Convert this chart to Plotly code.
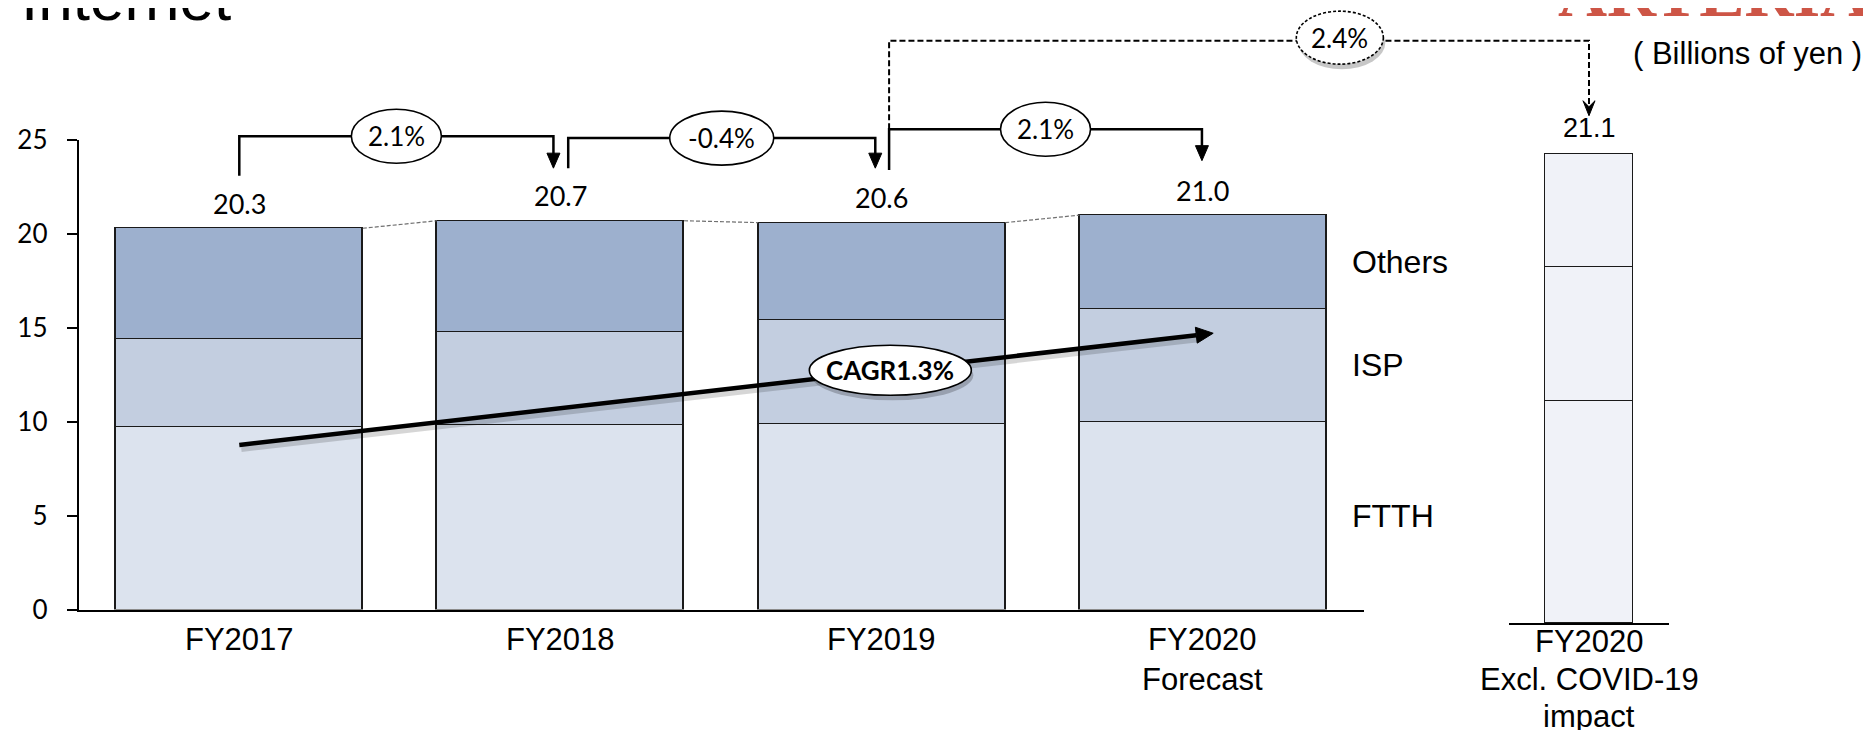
import math
import plotly.graph_objects as go

# ---------------- data ----------------
categories = ["FY2017", "FY2018", "FY2019", "FY2020<br>Forecast"]
ftth = [9.7, 9.8, 9.9, 10.0]
isp = [4.7, 5.0, 5.5, 6.0]
others = [5.9, 5.9, 5.2, 5.0]
totals = [20.3, 20.7, 20.6, 21.0]

excl_category = "FY2020<br>Excl. COVID-19<br>impact"
excl_ftth = [10.0]
excl_isp = [6.0]
excl_others = [5.1]
excl_total = 21.1

segment_names = ["FTTH", "ISP", "Others"]
growth_labels = ["2.1%", "-0.4%", "2.1%"]
excl_growth_label = "2.4%"
cagr_label = "CAGR1.3%"
y_ticks = [0, 5, 10, 15, 20, 25]

# ---------------- style / frame (page pixel coordinates) ----------------
W, H = 1871, 730
OFF = 8  # page body margin in front of the figure
X_DOM_PX = (78.7, 1363.5)
X_RANGE = (-0.5, 3.5)
Y_DOM_PX = (609.5, 140.0)
Y_RANGE = (0, 25)
X2_DOM_PX = (1509.0, 1669.0)
X2_RANGE = (-0.5, 0.5)
Y2_DOM_PX = (623.0, 140.0)
Y2_RANGE = (0, 21.71)

C_OTHERS = "#9DB0CE"
C_ISP = "#C3CEE0"
C_FTTH = "#DCE3EE"
C_EXCL = "#F0F2F8"
BAR_W = 0.769
BAR_W2 = 0.55
NUM_FONT = "Lato, Carlito, 'Liberation Sans', sans-serif"
TXT_FONT = "'Liberation Sans', Arial, sans-serif"


def fx(px):
    return (px - OFF) / W


def fy(py):
    return 1 - (py - OFF) / H


def to_px(x, y, axis="main"):
    if axis == "main":
        xd, xr, yd, yr = X_DOM_PX, X_RANGE, Y_DOM_PX, Y_RANGE
    else:
        xd, xr, yd, yr = X2_DOM_PX, X2_RANGE, Y2_DOM_PX, Y2_RANGE
    px = xd[0] + (x - xr[0]) / (xr[1] - xr[0]) * (xd[1] - xd[0])
    py = yd[0] + (y - yr[0]) / (yr[1] - yr[0]) * (yd[1] - yd[0])
    return px, py


def path_str(points, close=False):
    s = "M " + " L ".join(f"{fx(px):.5f},{fy(py):.5f}" for px, py in points)
    return s + (" Z" if close else "")


shapes = []
annotations = []


def add_path(points, color="black", width=2.5, dash="solid", fill=None, close=False):
    d = dict(type="path", xref="paper", yref="paper", path=path_str(points, close),
             line=dict(color=color, width=width, dash=dash))
    if fill:
        d["fillcolor"] = fill
    shapes.append(d)


def add_ellipse(cx, cy, w, h, dash="solid", shadow=False):
    if shadow:
        shapes.append(dict(type="circle", xref="paper", yref="paper",
                           x0=fx(cx - w / 2 + 2), x1=fx(cx + w / 2 + 2),
                           y0=fy(cy + h / 2 + 5), y1=fy(cy - h / 2 + 5),
                           fillcolor="rgba(0,0,0,0.22)", line=dict(width=0)))
    shapes.append(dict(type="circle", xref="paper", yref="paper",
                       x0=fx(cx - w / 2), x1=fx(cx + w / 2),
                       y0=fy(cy + h / 2), y1=fy(cy - h / 2), fillcolor="white",
                       line=dict(color="black", width=1.6, dash=dash)))


def add_text_px(text, px, py, size=26, family=NUM_FONT, bold=False, xanchor="center",
                yanchor="middle", color="black"):
    annotations.append(dict(text=f"<b>{text}</b>" if bold else text, x=fx(px), y=fy(py),
                            xref="paper", yref="paper", showarrow=False,
                            xanchor=xanchor, yanchor=yanchor,
                            font=dict(size=size, family=family, color=color)))


def down_arrowhead(tx, ty):
    add_path([(tx - 6.5, ty - 15), (tx + 6.5, ty - 15), (tx, ty)], width=1, fill="black",
             close=True)


# ---------------- figure ----------------
fig = go.Figure()
xs = list(range(len(categories)))
line_style = dict(color="#1a1a1a", width=1.5)
for vals, col, name in [(ftth, C_FTTH, "FTTH"), (isp, C_ISP, "ISP"), (others, C_OTHERS, "Others")]:
    fig.add_trace(go.Bar(x=xs, y=vals, width=BAR_W, name=name,
                         marker=dict(color=col, line=line_style),
                         xaxis="x", yaxis="y", hoverinfo="skip"))
for vals, name in [(excl_ftth, "FTTH"), (excl_isp, "ISP"), (excl_others, "Others")]:
    fig.add_trace(go.Bar(x=[0], y=vals, width=BAR_W2, name=name,
                         marker=dict(color=C_EXCL, line=line_style),
                         xaxis="x2", yaxis="y2", hoverinfo="skip"))

# dashed connectors between bar tops
for i in range(len(totals) - 1):
    shapes.append(dict(type="line", xref="x", yref="y",
                       x0=i + BAR_W / 2, y0=totals[i], x1=i + 1 - BAR_W / 2, y1=totals[i + 1],
                       line=dict(color="#707070", width=1.2, dash="4px,2px")))

# value labels
for i, t in enumerate(totals):
    annotations.append(dict(text=f"{t:.1f}", x=i, y=t, xref="x", yref="y", showarrow=False,
                            yanchor="middle", yshift=25,
                            font=dict(size=27, family=NUM_FONT, color="black")))
annotations.append(dict(text=f"{excl_total:.1f}", x=0, y=excl_total, xref="x2", yref="y2",
                        showarrow=False, yanchor="middle", yshift=26,
                        font=dict(size=27, family=TXT_FONT, color="black")))

# segment labels to the right of the last bar
last = len(categories) - 1
mids = [ftth[last] / 2, ftth[last] + isp[last] / 2, ftth[last] + isp[last] + others[last] / 2]
for name, m in zip(segment_names, mids):
    annotations.append(dict(text=name, x=last + BAR_W / 2, y=m, xref="x", yref="y",
                            xshift=24, showarrow=False, xanchor="left", yanchor="middle",
                            font=dict(size=32, family=TXT_FONT, color="black")))

# category labels
cat_top = fy(619.5)
for i, c in enumerate(categories):
    annotations.append(dict(text=c, x=i, y=cat_top, xref="x", yref="paper", showarrow=False,
                            xanchor="center", yanchor="top",
                            font=dict(size=31, family=TXT_FONT, color="black")))
excl_line_centers = [641, 679.5, 716]
for line, cy in zip(excl_category.split("<br>"), excl_line_centers):
    annotations.append(dict(text=line, x=0, y=fy(cy), xref="x2", yref="paper",
                            showarrow=False, xanchor="center", yanchor="middle",
                            font=dict(size=31, family=TXT_FONT, color="black")))

# growth brackets: (x_from, y_from, x_to, y_to, y_line) in main axis units
brackets = [
    (0.0, 23.1, 0.978, 23.5, 25.2),
    (1.024, 23.5, 1.98, 23.5, 25.1),
    (2.023, 23.4, 2.997, 23.9, 25.57),
]
ell_w = [90, 104, 90]
for (xf, yf, xt, yt, yl), lab, ew in zip(brackets, growth_labels, ell_w):
    p0 = to_px(xf, yf)
    p1 = to_px(xf, yl)
    p2 = to_px(xt, yl)
    tip = to_px(xt, yt)
    add_path([p0, p1, (p2[0], p1[1]), (tip[0], tip[1] - 14)], width=2.5)
    down_arrowhead(tip[0], tip[1])
    cx = (p1[0] + p2[0]) / 2
    add_ellipse(cx, p1[1], ew, 54)
    add_text_px(lab, cx, p1[1], size=26)

# dashed bracket to the excl. COVID-19 bar
b4_start = to_px(brackets[2][0], brackets[2][4])
b4_top = to_px(brackets[2][0], 30.29)
b4_tip = to_px(0, 22.8, axis="excl")
add_path([b4_start, b4_top, (b4_tip[0], b4_top[1]), (b4_tip[0], b4_tip[1] - 10)],
         width=2, dash="6px,3px")
tx, ty = b4_tip
add_path([(tx, ty), (tx - 6, ty - 15), (tx, ty - 9), (tx + 6, ty - 15)], width=1,
         fill="black", close=True)
b4_cx = b4_top[0] + 0.644 * (b4_tip[0] - b4_top[0])
add_ellipse(b4_cx, b4_top[1] - 3, 87, 53, dash="3px,2px", shadow=True)
add_text_px(excl_growth_label, b4_cx, b4_top[1] - 3, size=26)

# CAGR arrow
a0 = to_px(0.0, 8.76)
a1 = to_px(3.032, 14.71)
dx, dy = a1[0] - a0[0], a1[1] - a0[1]
L = math.hypot(dx, dy)
ux, uy = dx / L, dy / L
nx, ny = -uy, ux
base = (a1[0] - 17 * ux, a1[1] - 17 * uy)
add_path([(a0[0] + 2, a0[1] + 4), (base[0] + 2, base[1] + 4)], color="rgba(0,0,0,0.16)",
         width=6)
add_path([a0, base], width=4.5)
add_path([a1, (base[0] + 8 * nx, base[1] + 8 * ny), (base[0] - 8 * nx, base[1] - 8 * ny)],
         width=1, fill="black", close=True)
f = 0.6685
ccx, ccy = a0[0] + f * dx, a0[1] + f * dy
add_ellipse(ccx, ccy, 162, 50, shadow=True)
add_text_px(cagr_label, ccx, ccy, size=26, bold=True)

# page texts (partly cut by the top edge, as in the source slide)
annotations.append(dict(text="Internet", x=fx(19), y=fy(35), xref="paper", yref="paper",
                        showarrow=False, xanchor="left", yanchor="bottom",
                        font=dict(size=62, family=TXT_FONT, color="black")))
annotations.append(dict(text="<b>ARTERIA</b>", x=fx(1556), y=fy(33), xref="paper",
                        yref="paper", showarrow=False, xanchor="left", yanchor="bottom",
                        font=dict(size=68, family="'Liberation Serif', 'DejaVu Serif', serif",
                                  color="#CD5546")))
annotations.append(dict(text="( Billions of yen )", x=fx(1631), y=fy(54), xref="paper",
                        yref="paper", showarrow=False, xanchor="left", yanchor="middle",
                        font=dict(size=31, family=TXT_FONT, color="black")))

fig.update_layout(
    width=W, height=H,
    margin=dict(l=0, r=0, t=0, b=0, pad=0, autoexpand=False),
    paper_bgcolor="white", plot_bgcolor="rgba(0,0,0,0)",
    barmode="stack", bargap=0, showlegend=False, hovermode=False,
    xaxis=dict(domain=[fx(X_DOM_PX[0]), fx(X_DOM_PX[1])], range=list(X_RANGE),
               showline=True, linecolor="black", linewidth=2, showticklabels=False,
               ticks="", showgrid=False, zeroline=False, anchor="y", automargin=False),
    yaxis=dict(domain=[fy(Y_DOM_PX[0]), fy(Y_DOM_PX[1])], range=list(Y_RANGE),
               tickvals=y_ticks, ticks="outside", ticklen=10, tickwidth=2,
               tickcolor="black", showline=True, linecolor="black", linewidth=2,
               showgrid=False, zeroline=False, anchor="x", ticklabelstandoff=14,
               automargin=False,
               tickfont=dict(size=26, family=NUM_FONT, color="black")),
    xaxis2=dict(domain=[fx(X2_DOM_PX[0]), fx(X2_DOM_PX[1])], range=list(X2_RANGE),
                showline=True, linecolor="black", linewidth=2, showticklabels=False,
                ticks="", showgrid=False, zeroline=False, anchor="y2", automargin=False),
    yaxis2=dict(domain=[fy(Y2_DOM_PX[0]), fy(Y2_DOM_PX[1])], range=list(Y2_RANGE),
                visible=False, anchor="x2", automargin=False),
    shapes=shapes,
    annotations=annotations,
)

fig.write_html("out.html")
